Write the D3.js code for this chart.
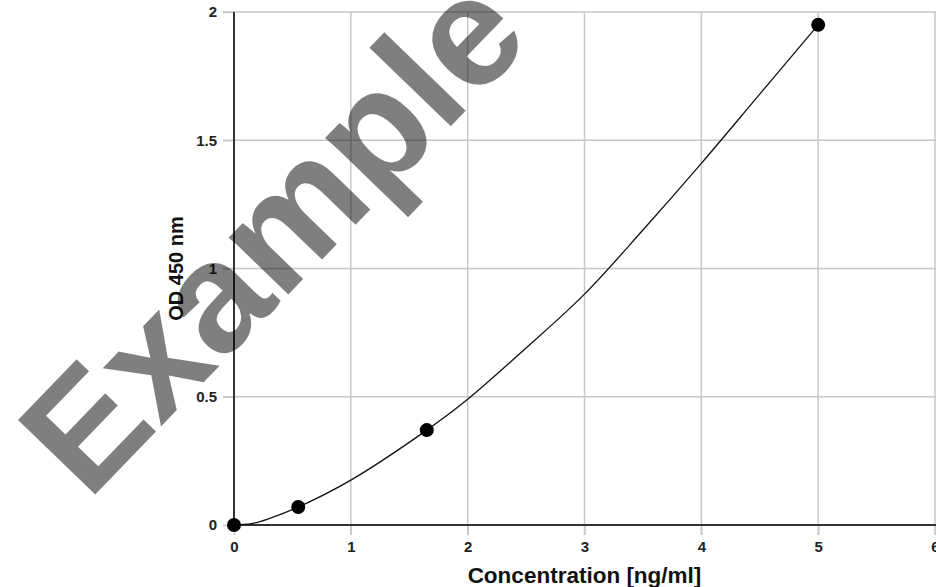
<!DOCTYPE html>
<html>
<head>
<meta charset="utf-8">
<script src="https://cdn.jsdelivr.net/npm/d3@7"></script>
<style>
  html, body { margin: 0; padding: 0; background: #fff; }
  svg { display: block; font-family: "Liberation Sans", Arial, sans-serif; }
</style>
</head>
<body>
<svg id="chart" width="936" height="587"></svg>
<script>
// standard points (concentration ng/ml, OD 450 nm)
const stdConc = [0, 0.55, 1.65, 5];
const stdOD = [0, 0.07, 0.37, 1.95];

// fitted curve
const curveConc = [0, 0.15, 0.3, 0.55, 1, 1.65, 2, 2.5, 3, 3.5, 4, 4.5, 5];
const curveOD = [0, 0.005, 0.025, 0.07, 0.175, 0.37, 0.49, 0.69, 0.9, 1.15, 1.41, 1.68, 1.95];

const xTicks = [0, 1, 2, 3, 4, 5, 6];
const yTicks = [0, 0.5, 1, 1.5, 2];

const xLabel = "Concentration [ng/ml]";
const yLabel = "OD  450 nm";
const watermark = "Example";

const svg = d3.select("#chart");
const margin = { top: 12, right: 1, bottom: 62, left: 234 };
const W = 936, H = 587;

const x = d3.scaleLinear().domain([0, 6]).range([margin.left, W - margin.right]);
const y = d3.scaleLinear().domain([0, 2]).range([H - margin.bottom, margin.top]);

// grid
const grid = svg.append("g").attr("class", "grid");
grid.selectAll("line.v")
  .data(xTicks.slice(1))
  .enter().append("line")
  .attr("x1", d => x(d)).attr("x2", d => x(d))
  .attr("y1", y(2)).attr("y2", y(0) + 10)
  .attr("stroke", "#c8c8c8").attr("stroke-width", 1.5);
grid.selectAll("line.h")
  .data(yTicks.slice(1))
  .enter().append("line")
  .attr("x1", x(0) - 11).attr("x2", W)
  .attr("y1", d => y(d)).attr("y2", d => y(d))
  .attr("stroke", "#c8c8c8").attr("stroke-width", 1.5);

// axes
const xAxis = svg.append("g")
  .attr("transform", `translate(0,${y(0)})`)
  .call(d3.axisBottom(x).tickValues(xTicks).tickSize(10).tickPadding(6).tickFormat(d3.format("d")));
xAxis.select(".domain").remove();
xAxis.selectAll(".tick line").attr("stroke", "#c8c8c8").attr("stroke-width", 1.5);
xAxis.selectAll(".tick text")
  .attr("font-size", 15).attr("font-weight", "bold").attr("fill", "#222");

const yAxis = svg.append("g")
  .attr("transform", `translate(${x(0)},0)`)
  .call(d3.axisLeft(y).tickValues(yTicks).tickSize(11).tickPadding(6).tickFormat(d3.format("")));
yAxis.select(".domain").remove();
yAxis.selectAll(".tick line").attr("stroke", "#c8c8c8").attr("stroke-width", 1.5);
yAxis.selectAll(".tick text")
  .attr("font-size", 15).attr("font-weight", "bold").attr("fill", "#222");

svg.append("line")
  .attr("x1", x(0)).attr("x2", W)
  .attr("y1", y(0)).attr("y2", y(0))
  .attr("stroke", "#333").attr("stroke-width", 2);
svg.append("line")
  .attr("x1", x(0)).attr("x2", x(0))
  .attr("y1", y(2)).attr("y2", y(0))
  .attr("stroke", "#333").attr("stroke-width", 2);

// axis titles
svg.append("text")
  .attr("x", (x(0) + x(6)) / 2)
  .attr("y", 583)
  .attr("text-anchor", "middle")
  .attr("font-size", 22.5).attr("font-weight", "bold").attr("fill", "#111")
  .text(xLabel);
svg.append("text")
  .attr("transform", `translate(183,${(y(0) + y(2)) / 2}) rotate(-90)`)
  .attr("text-anchor", "middle")
  .attr("font-size", 20).attr("font-weight", "bold").attr("fill", "#111")
  .text(yLabel);

// fitted curve
const curvePts = curveConc.map((c, i) => ({ c, od: curveOD[i] }));
svg.append("path")
  .datum(curvePts)
  .attr("fill", "none")
  .attr("stroke", "#111")
  .attr("stroke-width", 1.3)
  .attr("d", d3.line().x(d => x(d.c)).y(d => y(d.od)).curve(d3.curveCatmullRom.alpha(0.5)));

// standards
const stdPts = stdConc.map((c, i) => ({ c, od: stdOD[i] }));
svg.selectAll("circle.std")
  .data(stdPts)
  .enter().append("circle")
  .attr("cx", d => x(d.c))
  .attr("cy", d => y(d.od))
  .attr("r", 7)
  .attr("fill", "#000");

// watermark
svg.append("text")
  .attr("transform", "translate(88,502) rotate(-46)")
  .attr("font-size", 156).attr("font-weight", "bold")
  .attr("fill", "#000").attr("fill-opacity", 0.5)
  .text(watermark);
</script>
</body>
</html>
